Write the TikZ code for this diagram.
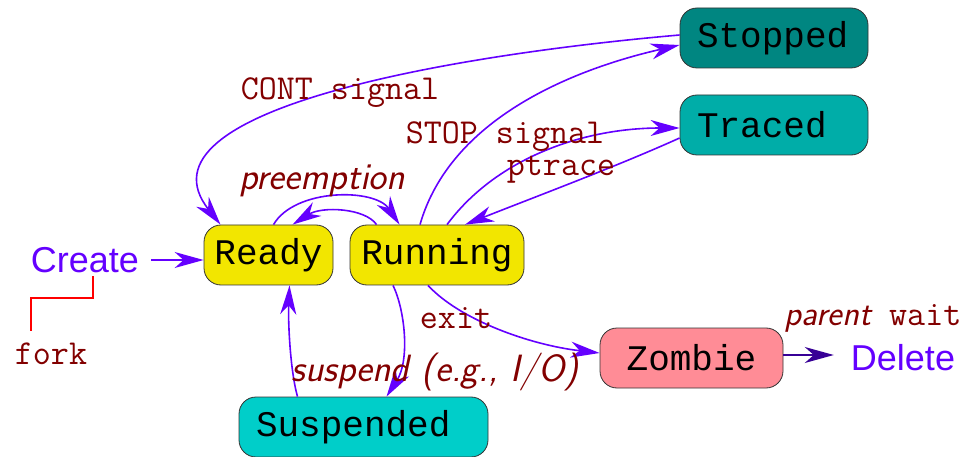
\documentclass[tikz,border=0pt]{standalone}
\usepackage{fontspec}
\usepackage{tikz}
\usetikzlibrary{arrows.meta, positioning, calc}
\newfontfamily\boxfont{Liberation Mono}
\newfontfamily\headfont{Liberation Sans}
\definecolor{flowpurple}{RGB}{100,0,255}
\definecolor{deletepurple}{RGB}{55,0,150}
\definecolor{labelred}{RGB}{130,0,0}
\definecolor{readyyellow}{RGB}{242,230,0}
\definecolor{stoppedteal}{RGB}{0,134,129}
\definecolor{tracedteal}{RGB}{0,173,168}
\definecolor{suspendcyan}{RGB}{0,206,201}
\definecolor{zombiepink}{RGB}{255,140,150}

\begin{document}
\begin{tikzpicture}[x=1pt, y=1pt,
  state/.style={draw=black!80, line width=0.8pt, rounded corners=17pt,
    minimum height=60pt, inner xsep=0pt, font=\boxfont\fontsize{36}{40}\selectfont},
  leftstate/.style={state, align=left, inner xsep=17pt},
  lbl/.style={text=labelred, inner sep=0pt, font=\ttfamily\fontsize{35}{40}\selectfont},
  ilbl/.style={text=labelred, inner sep=0pt, font=\sffamily\itshape\fontsize{38}{42}\selectfont},
  endpoint/.style={text=flowpurple, inner xsep=12pt, font=\headfont\fontsize{36}{40}\selectfont},
  flow/.style={draw=flowpurple, line width=1.6pt, -{Stealth[length=29pt, width=16pt, inset=9pt]}}]
  \useasboundingbox (0,0) rectangle (967,-457);

  % states
  \node[state, fill=readyyellow, minimum width=129pt] (ready) at (268.5,-255) {Ready};
  \node[state, fill=readyyellow, minimum width=174pt] (running) at (437,-255) {Running};
  \node[leftstate, fill=stoppedteal, text width=154pt] (stopped) at (774,-38) {Stopped};
  \node[leftstate, fill=tracedteal, text width=154pt] (traced) at (774,-125) {Traced};
  \node[leftstate, fill=suspendcyan, text width=215pt] (suspended) at (363.5,-427) {Suspended};
  \node[state, fill=zombiepink, minimum width=183pt] (zombie) at (691.5,-358) {Zombie};

  % start and end
  \node[endpoint] (create) at (85,-260) {Create};
  \node[endpoint, inner xsep=17pt] (delete) at (903,-358) {Delete};
  \node[lbl, inner sep=12pt] (fork) at (51,-354) {fork};
  \draw[red, line width=1.6pt] ([xshift=8pt]create.south) -- ++(0,-22) -| ([xshift=-20pt]fork.north);

  % transitions
  \draw[flow] (create.east) -- (create.east -| ready.west);
  \draw[flow] ([xshift=5pt]ready.north) .. controls (295,-188) and (375,-188) .. ([xshift=50pt]running.north west);
  \draw[flow] ([xshift=27pt]running.north west) .. controls (365,-208) and (322,-206) .. ([xshift=24pt]ready.north);
  \draw[flow] ([yshift=3pt]stopped.west) .. controls (450,-55) and (130,-110) .. ([xshift=-48pt]ready.north);
  \draw[flow] ([xshift=-17pt]running.north) .. controls (450,-120) and (570,-70) .. ([yshift=-7pt]stopped.west);
  \draw[flow] ([xshift=10pt]running.north) .. controls (495,-160) and (580,-128) .. ([yshift=-3pt]traced.west);
  \draw[flow] ([yshift=-13pt]traced.west) .. controls (620,-165) and (540,-195) .. ([xshift=28pt]running.north);
  \draw[flow] ([xshift=-44pt]running.south) .. controls (405,-310) and (410,-360) .. ([xshift=23pt]suspended.north);
  \draw[flow] ([xshift=-66pt]suspended.north) .. controls (290,-370) and (288,-320) .. ([xshift=21pt]ready.south);
  \draw[flow] ([xshift=-9pt]running.south) .. controls (460,-320) and (530,-345) .. ([yshift=5pt]zombie.west);
  \draw[flow, draw=deletepurple] ([yshift=3pt]zombie.east) -- ([yshift=3pt]zombie.east -| delete.west);

  % labels
  \node[lbl] (contlbl) at (340,-93) {CONT signal};
  \node[lbl] (stoplbl) at (505,-137) {STOP signal};
  \node[lbl] (ptracelbl) at (561,-170) {ptrace};
  \node[ilbl] (preemptlbl) at (322,-181) {preemption};
  \node[lbl] (exitlbl) at (456,-318) {exit};
  \node[ilbl] (suspendlbl) at (435,-372) {suspend (e.g., I/O)};
  \node[lbl] (waitlbl) at (873,-318) {{\sffamily\itshape parent} wait};
\end{tikzpicture}
\end{document}
